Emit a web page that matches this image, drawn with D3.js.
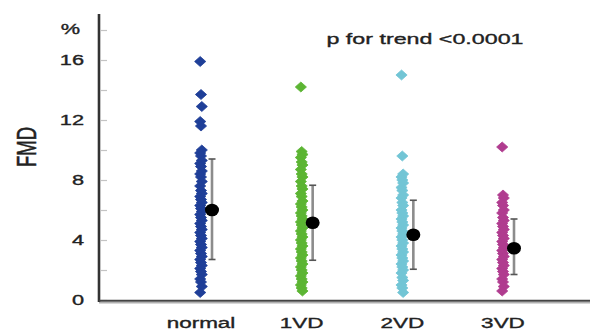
<!DOCTYPE html>
<html>
<head>
<meta charset="utf-8">
<script src="https://cdn.jsdelivr.net/npm/d3@7"></script>
<style>
  html, body { margin: 0; padding: 0; background: #fff; }
  svg { display: block; }
  text { font-family: "Liberation Sans", Arial, sans-serif; fill: #222; stroke: #222; stroke-width: 0.35; }
</style>
</head>
<body>
<svg id="chart" width="590" height="329"></svg>
<script>
// groups on the x axis
const categories = ['normal', '1VD', '2VD', '3VD'];
const colors = ['#1f3f98', '#5cb533', '#72c5d5', '#b03c8f'];

// individual FMD values (%) per group
const normalValues = [15.9, 13.7, 12.9, 11.9, 11.6, 10.0, 9.8, 9.6, 9.3, 9.1, 8.9, 8.6, 8.4, 8.2, 7.9,
  7.6, 7.3, 7.1, 6.9, 6.7, 6.5, 6.3, 6.1, 5.9, 5.7, 5.5, 5.3, 5.1, 4.9, 4.7, 4.5, 4.3, 4.1, 3.9,
  3.7, 3.5, 3.3, 3.1, 2.9, 2.7, 2.5, 2.3, 2.1, 1.9, 1.7, 1.4, 1.2, 0.9, 0.5];
const vd1Values = [14.2, 9.9, 9.7, 9.5, 9.2, 9.0, 8.7, 8.4, 8.2, 7.9, 7.6, 7.4, 7.1, 6.9, 6.6, 6.4,
  6.2, 6.0, 5.8, 5.6, 5.4, 5.2, 5.0, 4.8, 4.6, 4.4, 4.2, 4.0, 3.8, 3.6, 3.4, 3.2, 3.0, 2.8, 2.6,
  2.4, 2.2, 2.0, 1.8, 1.6, 1.4, 1.2, 1.0, 0.8, 0.6];
const vd2Values = [15.0, 9.6, 8.4, 8.2, 8.0, 7.8, 7.5, 7.3, 7.0, 6.8, 6.5, 6.3, 6.0, 5.8, 5.6, 5.4,
  5.2, 5.0, 4.8, 4.6, 4.4, 4.2, 4.0, 3.8, 3.6, 3.4, 3.2, 3.0, 2.8, 2.6, 2.4, 2.2, 2.0, 1.8, 1.5,
  1.3, 1.0, 0.8, 0.5];
const vd3Values = [10.2, 7.0, 6.8, 6.5, 6.3, 6.0, 5.8, 5.5, 5.3, 5.1, 4.9, 4.7, 4.5, 4.3, 4.1, 3.9,
  3.7, 3.5, 3.3, 3.1, 2.9, 2.7, 2.5, 2.3, 2.1, 1.9, 1.7, 1.4, 1.2, 0.9, 0.6];
const groupValues = [normalValues, vd1Values, vd2Values, vd3Values];

// mean and spread (error bar ends) per group
const means = [6.0, 5.15, 4.35, 3.45];
const upper = [9.4, 7.65, 6.65, 5.4];
const lower = [2.7, 2.65, 2.05, 1.7];

// y ticks: every 2, labels every 4, "%" at the top
const yTicks = [0, 2, 4, 6, 8, 10, 12, 14, 16, 18];
const trendLabel = 'p for trend <0.0001';

const svg = d3.select('#chart');
const stretch = 'scale(1.5,1)';   // the source figure is widened horizontally

const y = d3.scaleLinear().domain([0, 19]).range([300, 15]);
const x = d3.scalePoint().domain(categories).range([201, 503]);

// y axis
const yAxis = d3.axisLeft(y)
  .tickValues(yTicks)
  .tickSizeInner(-8)
  .tickSizeOuter(0)
  .tickPadding(15)
  .tickFormat(d => d === 18 ? '%' : (d % 4 === 0 ? d : ''));

const gy = svg.append('g').attr('transform', 'translate(99,0)').call(yAxis);
gy.select('.domain').attr('stroke', '#333').attr('stroke-width', 2.6)
  .attr('d', `M0,${y(19) - 1}V${y(0) + 2}`);
gy.selectAll('.tick line').attr('stroke', '#c4c4c4').attr('stroke-width', 1.2).attr('x1', 2);
gy.selectAll('.tick text')
  .attr('x', null)
  .attr('transform', d => `translate(${d === 18 ? -19 : -15},${d === 18 ? -1 : 0}) ${stretch}`)
  .attr('font-size', 14.5)
  .attr('font-family', '"Liberation Sans", Arial, sans-serif')
  .attr('fill', '#2a2a2a');

// x axis line
svg.append('line')
  .attr('x1', 99).attr('x2', 590).attr('y1', y(0) + 0.8).attr('y2', y(0) + 0.8)
  .attr('stroke', '#444').attr('stroke-width', 2);
svg.append('line')
  .attr('x1', 99).attr('x2', 590).attr('y1', y(0) + 2.8).attr('y2', y(0) + 2.8)
  .attr('stroke', '#b0b0b0').attr('stroke-width', 1.4);

// x labels
svg.append('g').selectAll('text')
  .data(categories)
  .join('text')
  .attr('transform', d => `translate(${x(d)},328) ${stretch}`)
  .attr('text-anchor', 'middle')
  .attr('font-size', 15)
  .text(d => d);

// y title
svg.append('text')
  .attr('transform', `translate(36,147) ${stretch} rotate(-90)`)
  .attr('text-anchor', 'middle')
  .attr('font-size', 18.5)
  .text('FMD');

// p for trend
svg.append('text')
  .attr('transform', `translate(425,44) ${stretch}`)
  .attr('text-anchor', 'middle')
  .attr('font-size', 15.5)
  .text(trendLabel);

// individual points as diamonds
const diamond = 'M0,-5L5.6,0L0,5L-5.6,0Z';
groupValues.forEach((vals, gi) => {
  svg.append('g').selectAll('path')
    .data(vals)
    .join('path')
    .attr('d', diamond)
    .attr('fill', colors[gi])
    .attr('stroke', colors[gi])
    .attr('stroke-width', 0.8)
    .attr('stroke-linejoin', 'round')
    .attr('transform', (v, i) => `translate(${x(categories[gi]) + (i % 3 - 1) * 0.8},${y(v)})`);
});

// mean +/- spread
const off = 11;
const stats = categories.map((c, i) => ({ c, m: means[i], hi: upper[i], lo: lower[i] }));
const eb = svg.append('g').selectAll('g').data(stats).join('g')
  .attr('transform', d => `translate(${x(d.c) + off},0)`);
eb.append('line')
  .attr('y1', d => y(d.hi)).attr('y2', d => y(d.lo))
  .attr('stroke', '#8c8c8c').attr('stroke-width', 2.6);
eb.append('line')
  .attr('x1', -3.5).attr('x2', 3.5)
  .attr('y1', d => y(d.hi)).attr('y2', d => y(d.hi))
  .attr('stroke', '#555').attr('stroke-width', 1.6);
eb.append('line')
  .attr('x1', -3.5).attr('x2', 3.5)
  .attr('y1', d => y(d.lo)).attr('y2', d => y(d.lo))
  .attr('stroke', '#555').attr('stroke-width', 1.6);
eb.append('ellipse')
  .attr('cy', d => y(d.m))
  .attr('rx', 7).attr('ry', 6.3)
  .attr('fill', '#000');
</script>
</body>
</html>
